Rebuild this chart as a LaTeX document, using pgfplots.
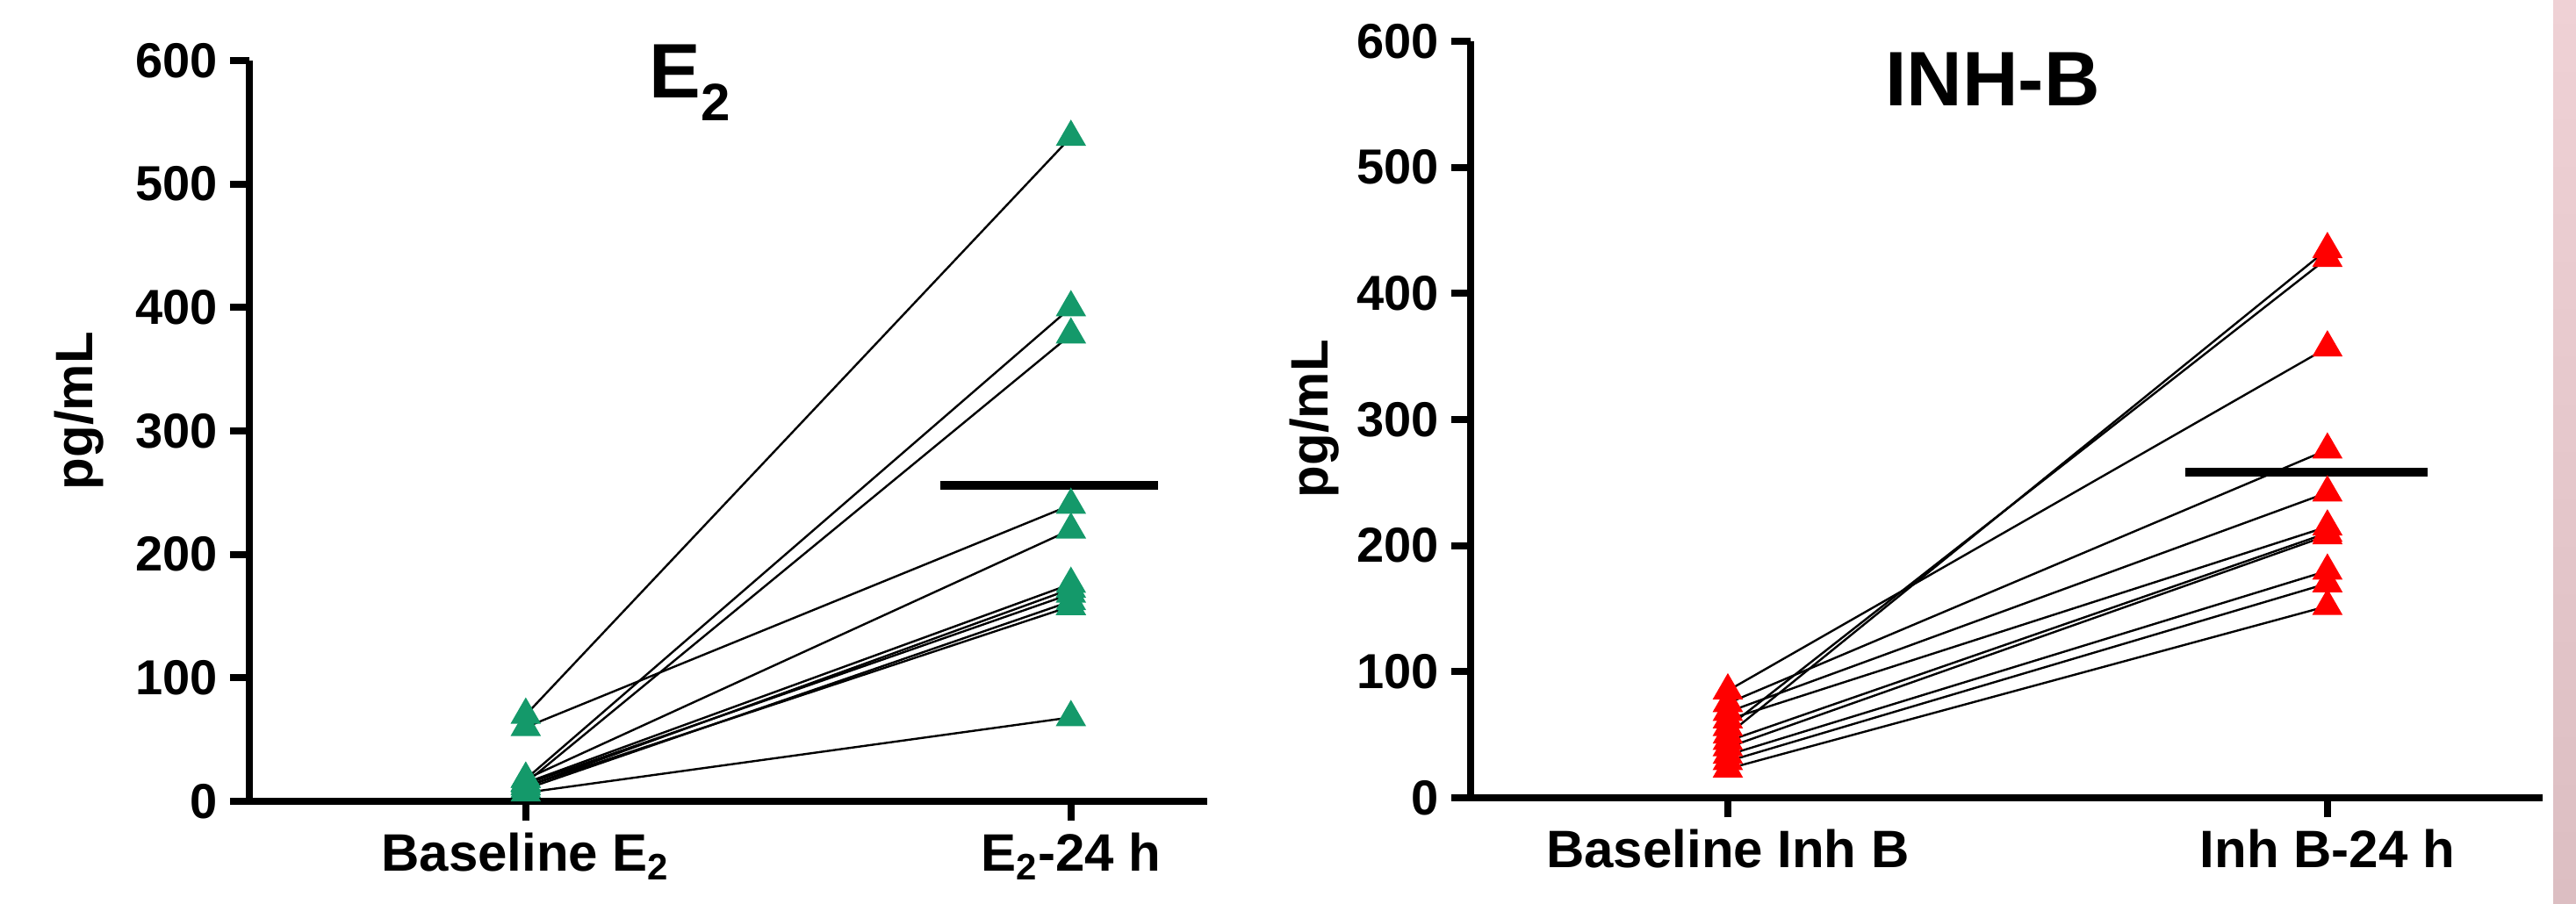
\documentclass[border=0pt]{standalone}
\usepackage{fontspec}
\setmainfont{Liberation Sans}
\usepackage{pgfplots}
\pgfplotsset{compat=1.18}
\definecolor{tgreen}{RGB}{20,153,106}
\definecolor{pinkA}{RGB}{239,209,213}
\definecolor{pinkB}{RGB}{220,190,194}
\pgfplotsset{
  pstyle/.style={
    scale only axis, axis lines=left, axis line style={-, line width=2pt},
    ymin=0, ymax=600, ytick={0,100,...,600},
    xtick={0,1}, tick align=outside, major tick length=5.5pt,
    every tick/.style={black, line width=2pt},
    yticklabel style={font=\fontsize{14}{16}\selectfont\bfseries},
    xticklabel style={font=\fontsize{15}{17}\selectfont\bfseries},
    /pgf/number format/assume math mode=true,
    clip=false,
    ylabel={pg/mL},
    ylabel style={font=\fontsize{15}{17}\selectfont\bfseries, anchor=center},
  },
  pair/.style={black, line width=0.6pt, no marks},
}
\begin{document}
\begin{tikzpicture}
\path[use as bounding box] (0,0) rectangle (733.5pt,257.25pt);
\shade[top color=pinkA, bottom color=pinkB] (727pt,0) rectangle (733.5pt,257.25pt);
% Left panel: E2
\begin{axis}[pstyle, at={(71pt,29pt)}, anchor=south west,
  width=272.75pt, height=211pt, xmin=-0.507, xmax=1.25,
  xticklabels={Baseline E\textsubscript{2}, E\textsubscript{2}-24 h},
  ylabel style={at={(axis description cs:-0.178,0.527)}}]
\addplot[pair] coordinates {(0,70) (1,538)};
\addplot[pair] coordinates {(0,18) (1,400)};
\addplot[pair] coordinates {(0,15) (1,378)};
\addplot[pair] coordinates {(0,60) (1,240)};
\addplot[pair] coordinates {(0,18) (1,220)};
\addplot[pair] coordinates {(0,15) (1,176)};
\addplot[pair] coordinates {(0,12) (1,172)};
\addplot[pair] coordinates {(0,14) (1,168)};
\addplot[pair] coordinates {(0,10) (1,162)};
\addplot[pair] coordinates {(0,12) (1,158)};
\addplot[pair] coordinates {(0,7) (1,68)};
\addplot[only marks, mark=triangle*, mark size=4.6pt, color=tgreen] coordinates {
(0,70) (0,60) (0,18) (0,15) (0,18) (0,15) (0,12) (0,14) (0,10) (0,12) (0,7)
(1,538) (1,400) (1,378) (1,240) (1,220) (1,176) (1,172) (1,168) (1,162) (1,158) (1,68)};
\addplot[black, line width=2.5pt, no marks] coordinates {(0.76,256) (1.16,256)};
\node at (axis description cs:0.46,0.97) {\fontsize{22}{24}\selectfont\bfseries E\raisebox{-0.3em}{\fontsize{15}{17}\selectfont 2}};
\end{axis}
% Right panel: INH-B
\begin{axis}[pstyle, at={(418.75pt,30pt)}, anchor=south west,
  width=305.25pt, height=215.5pt, xmin=-0.429, xmax=1.359,
  xticklabels={Baseline Inh B, Inh B-24 h},
  ylabel style={at={(axis description cs:-0.146,0.501)}}]
\addplot[pair] coordinates {(0,85) (1,357)};
\addplot[pair] coordinates {(0,50) (1,435)};
\addplot[pair] coordinates {(0,56) (1,428)};
\addplot[pair] coordinates {(0,75) (1,276)};
\addplot[pair] coordinates {(0,68) (1,242)};
\addplot[pair] coordinates {(0,62) (1,215)};
\addplot[pair] coordinates {(0,45) (1,210)};
\addplot[pair] coordinates {(0,40) (1,208)};
\addplot[pair] coordinates {(0,34) (1,180)};
\addplot[pair] coordinates {(0,29) (1,170)};
\addplot[pair] coordinates {(0,23) (1,152)};
\addplot[only marks, mark=triangle*, mark size=4.6pt, color=red] coordinates {
(0,85) (0,50) (0,56) (0,75) (0,68) (0,62) (0,45) (0,40) (0,34) (0,29) (0,23)
(1,357) (1,435) (1,428) (1,276) (1,242) (1,215) (1,210) (1,208) (1,180) (1,170) (1,152)};
\addplot[black, line width=2.5pt, no marks] coordinates {(0.763,258) (1.167,258)};
\node at (axis description cs:0.487,0.95) {\fontsize{22}{24}\selectfont\bfseries INH-B};
\end{axis}
\end{tikzpicture}
\end{document}
